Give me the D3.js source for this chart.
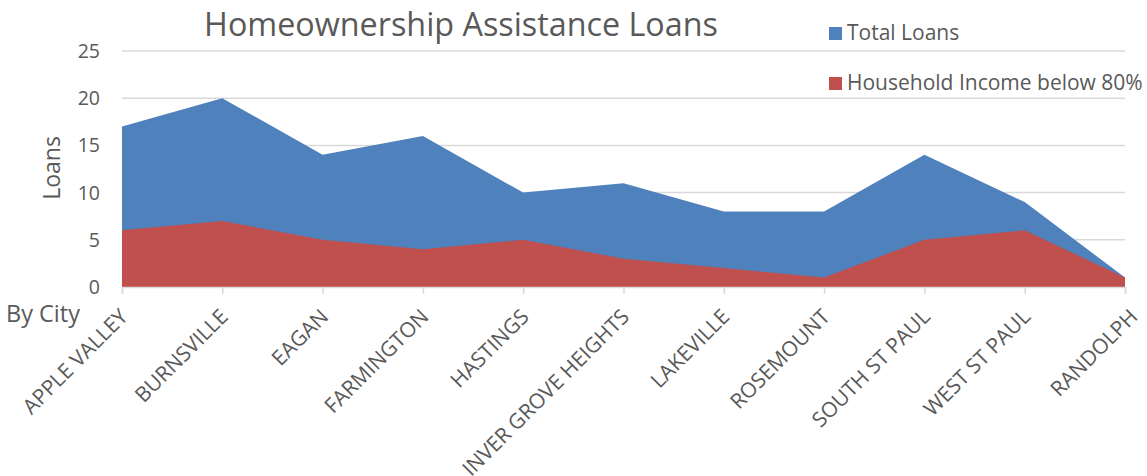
<!DOCTYPE html>
<html><head><meta charset="utf-8">
<script src="https://cdn.jsdelivr.net/npm/d3@7"></script>
<style>body{margin:0;background:#fff}svg{display:block}text{font-family:"Open Sans",sans-serif;fill:#595959}</style>
</head><body><svg id="c" width="1147" height="476"></svg>
<script>
const cities = ["APPLE VALLEY","BURNSVILLE","EAGAN","FARMINGTON","HASTINGS","INVER GROVE HEIGHTS","LAKEVILLE","ROSEMOUNT","SOUTH ST PAUL","WEST ST PAUL","RANDOLPH"];
const totalLoans = [17,20,14,16,10,11,8,8,14,9,1];
const lowIncome = [6,7,5,4,5,3,2,1,5,6,1];
const yTicks = [0,5,10,15,20,25];
const seriesNames = ["Total Loans","Household Income below 80%"];
const colors = ["#4F81BD","#C0504D"];

const svg = d3.select("#c");
const x = d3.scalePoint().domain(cities).range([122,1125]);
const y = d3.scaleLinear().domain([0,25]).range([287,51]);

// gridlines
svg.append("g").selectAll("line").data(yTicks.filter(d=>d>0)).join("line")
  .attr("x1",122).attr("x2",1125).attr("y1",d=>y(d)).attr("y2",d=>y(d))
  .attr("stroke","#d9d9d9").attr("stroke-width",1.5);

const series = [totalLoans, lowIncome];
series.forEach((vals,i)=>{
  const area = d3.area().x((d,j)=>x(cities[j])).y0(y(0)).y1(d=>y(d));
  svg.append("path").datum(vals).attr("d",area).attr("fill",colors[i]);
});

// x axis
const xa = svg.append("g").attr("transform","translate(0,287)").call(d3.axisBottom(x).tickSize(7).tickFormat(""));
xa.select(".domain").attr("stroke","#d9d9d9").attr("stroke-width",1.5);
xa.selectAll(".tick line").attr("stroke","#d9d9d9").attr("stroke-width",1.5);

const last = cities[cities.length-1];
svg.append("g").selectAll("text").data(cities).join("text")
  .attr("transform",d=>`translate(${x(d)+(d===last?14:7)},${318}) rotate(-45)`)
  .attr("text-anchor","end").attr("font-size",21).text(d=>d);

// y axis labels
svg.append("g").selectAll("text").data(yTicks).join("text")
  .attr("x",100).attr("y",d=>y(d)+7).attr("text-anchor","end").attr("font-size",19.5).text(d=>d);

svg.append("text").attr("transform","translate(60,168) rotate(-90)").attr("text-anchor","middle").attr("font-size",23).text("Loans");
svg.append("text").attr("x",6).attr("y",322).attr("font-size",23.5).text("By City");

svg.append("text").attr("x",461).attr("y",36).attr("text-anchor","middle").attr("font-size",32.3).text("Homeownership Assistance Loans");

// legend
const lg = svg.append("g");
seriesNames.forEach((n,i)=>{
  lg.append("rect").attr("x",829).attr("y",27+i*50).attr("width",13).attr("height",13).attr("fill",colors[i]);
  lg.append("text").attr("x",847).attr("y",40+i*50).attr("font-size",21).text(n);
});
</script></body></html>
